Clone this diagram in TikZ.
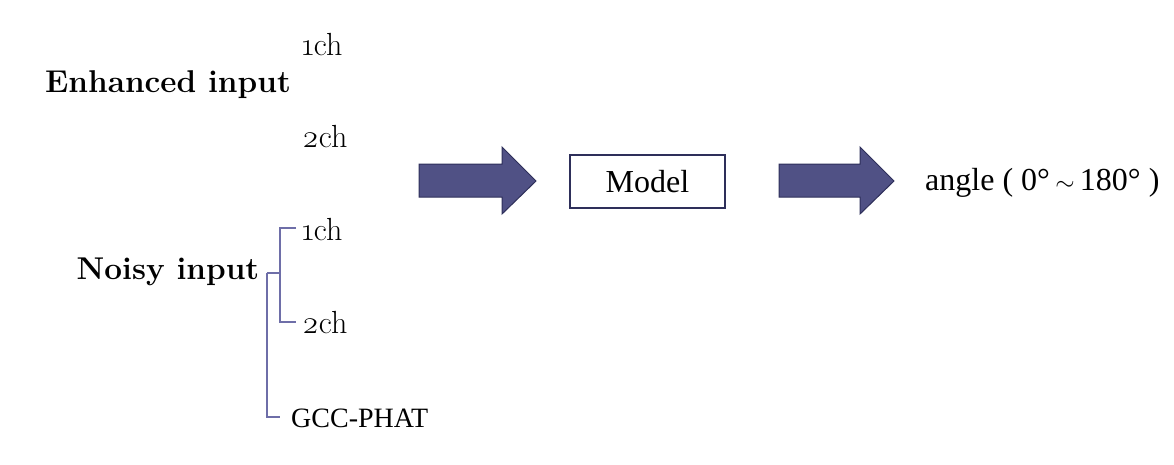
\documentclass[tikz,border=0pt]{standalone}
\usepackage{fontspec}
\setmainfont{Latin Modern Roman}
\newfontfamily\lmold[Numbers=OldStyle]{Latin Modern Roman}
\newfontfamily\timesf{Liberation Serif}
\usetikzlibrary{calc}
\definecolor{arrfill}{HTML}{505185}
\definecolor{arrdraw}{HTML}{2E2F5A}
\definecolor{brk}{HTML}{6E6EA8}
\tikzset{
  head/.style={font=\fontsize{31.5}{33}\selectfont\bfseries, inner sep=0pt},
  chlab/.style={font=\lmold\fontsize{32}{34}\selectfont, inner sep=0pt},
  tlab/.style={font=\timesf\fontsize{32}{34}\selectfont, inner sep=0pt},
  brkline/.style={draw=brk, line width=1.4pt},
  bigarrow/.style={fill=arrfill, draw=arrdraw, line width=1pt, line join=miter},
}
\begin{document}
\begin{tikzpicture}[x=1pt,y=-1pt]
\useasboundingbox (0,0) rectangle (1174,464);
% enhanced
\node[chlab, anchor=west] (e1) at (302,45) {1ch};
\node[head] (enh) at (168,85) {Enhanced input};
\node[chlab, anchor=west] (e2) at (302,137) {2ch};
% noisy
\node[chlab, anchor=west] (n1) at (302,230) {1ch};
\node[head] (noisy) at (168,272) {Noisy input};
\node[chlab, anchor=west] (n2) at (302,323) {2ch};
\node[font=\timesf\fontsize{28}{30}\selectfont, inner sep=0pt, anchor=west] (gcc) at (291,418) {GCC-PHAT};
\coordinate (j1) at (267,273);
\coordinate (j2) at (280,273);
\draw[brkline] (j1) -- (j2);
\draw[brkline] (296,228) -- (280,228) -- (280,322) -- (296,322);
\draw[brkline] (j1) -- (267,417) -- (280,417);
% arrows
\path[bigarrow] (419,164) -- (502,164) -- (502,147) -- (536,181) -- (502,214) -- (502,197) -- (419,197) -- cycle;
\node[draw=arrdraw, line width=1.2pt, minimum width=155pt, minimum height=53pt, tlab] (model) at (647.5,181.5) {Model};
\path[bigarrow] (779,164) -- (860,164) -- (860,147) -- (894,181) -- (860,214) -- (860,197) -- (779,197) -- cycle;
\node[tlab, anchor=west] (angle) at (925,183) {angle ( 0°\,$\sim$\,180° )};
\end{tikzpicture}
\end{document}
